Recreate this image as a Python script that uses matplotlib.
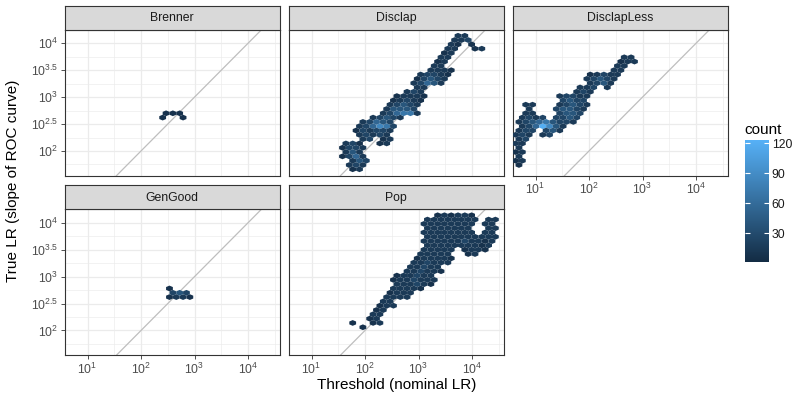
import numpy as np
import matplotlib
matplotlib.use('Agg')
import matplotlib.pyplot as plt
from matplotlib.colors import LinearSegmentedColormap, Normalize
from matplotlib.ticker import FixedLocator, NullFormatter

plt.rcParams['font.family'] = ['Liberation Sans', 'DejaVu Sans']
plt.rcParams['mathtext.fontset'] = 'custom'
plt.rcParams['mathtext.rm'] = 'Liberation Sans'
plt.rcParams['mathtext.it'] = 'Liberation Sans'

# hex lattice in log10 units (width of a cell, height step of two rows, origin)
hex_w = 0.127
hex_h = 0.16
x0, y0 = 0.5, 1.5
nx, ny = 34, 18

# count class per character
count_code = {'1': 3, '2': 8, '3': 15, '4': 25, '5': 40, '6': 55,
              '7': 70, '8': 85, '9': 100, 'A': 120}

# rows of hex cells: (row k, first column j, count codes), '.' = empty
brenner = [(14, 15, "2..2"),
           (15, 15, "222")]

disclap = [(2, 10, "23"), (3, 9, "343"), (4, 10, "354"), (5, 8, "2463"),
           (6, 9, "353"), (7, 8, "2443"), (8, 9, "342..23"), (9, 11, "34.23"),
           (10, 11, "34343"), (11, 10, "243443"), (12, 11, "346874"),
           (13, 11, "34654"), (14, 13, "34543"), (15, 14, "346773"),
           (16, 15, "35554"), (17, 15, "34543"), (18, 16, "23432"),
           (19, 16, "23332"), (20, 18, "343"), (21, 19, "33"),
           (22, 19, "34653"), (23, 19, "24543"), (24, 20, "34432"),
           (25, 21, "3332"), (26, 22, "33"), (27, 22, "23"), (28, 23, "33"),
           (29, 23, "23"), (30, 24, "33..23"), (31, 24, "32.2"),
           (32, 25, "334"), (33, 25, "33")]

disclapless = [(3, 1, "2"), (4, 1, "23"), (5, 1, "3"), (6, 1, "23"),
               (7, 1, "3"), (8, 1, "33"), (9, 1, "34"), (10, 1, "343.34"),
               (11, 1, "344.453"), (12, 2, "346A853"), (13, 1, "345675443"),
               (14, 2, "3434.4454"), (15, 2, "33...4554"),
               (16, 3, "3...45543"), (17, 2, "33...34543"), (18, 8, "4544"),
               (19, 7, "34433"), (20, 10, "343"), (21, 10, "334.3"),
               (22, 12, "3453"), (23, 11, "34543"), (24, 12, "23433"),
               (25, 15, "33"), (26, 16, "33"), (27, 16, "233"), (28, 17, "33")]

gengood = [(14, 16, "2332"),
           (15, 16, "454"),
           (16, 16, "2")]

pop = [(7, 11, "2"), (8, 10, "2..23"), (9, 12, "23"), (10, 13, "33"),
       (11, 13, "23"), (12, 14, "233"), (13, 14, "33"), (14, 15, "3333"),
       (15, 15, "2333"), (16, 16, "33332"), (17, 16, "333432"),
       (18, 16, "2334333"), (19, 16, "233433"), (20, 18, "334332"),
       (21, 18, "33433"), (22, 19, "334333"), (23, 19, "233332"),
       (24, 20, "33333..23"), (25, 20, "33333.2332"), (26, 21, "3333333323"),
       (27, 20, "33333343323"), (28, 21, "33333333333"),
       (29, 20, "33333333.33"), (30, 21, "3333333..33"),
       (31, 20, "33333333.33"), (32, 21, "33333333.33"), (33, 22, "232332")]

facets = ['Brenner', 'Disclap', 'DisclapLess', 'GenGood', 'Pop']
facet_rows = [brenner, disclap, disclapless, gengood, pop]

x_ticks = [1e1, 1e2, 1e3, 1e4]
x_labels = [r'$10^{1}$', r'$10^{2}$', r'$10^{3}$', r'$10^{4}$']
y_ticks = [10 ** 2, 10 ** 2.5, 10 ** 3, 10 ** 3.5, 10 ** 4]
y_labels = [r'$10^{2}$', r'$10^{2.5}$', r'$10^{3}$', r'$10^{3.5}$', r'$10^{4}$']


def cells(rows):
    xs, ys, cs = [], [], []
    for k, j0, codes in rows:
        for n, ch in enumerate(codes):
            if ch == '.':
                continue
            j = j0 + n + 0.5 * (k % 2)
            xs.append(10 ** (x0 + j * hex_w))
            ys.append(10 ** (y0 + k * hex_h / 2))
            cs.append(count_code[ch])
    return xs, ys, cs


cmap = LinearSegmentedColormap.from_list('gg', ['#132B43', '#56B1F7'])
norm = Normalize(vmin=1, vmax=123)

W, H = 797, 396
fig = plt.figure(figsize=(W / 100, H / 100), dpi=100)

lefts = [64.5, 288.5, 512.5]
pw = 215.5
rows_px = [(29.5, 175.7), (209.0, 355.2)]
strip_h = 24

hb = None
for i, (name, rows) in enumerate(zip(facets, facet_rows)):
    r, c = divmod(i, 3)
    top, bot = rows_px[r]
    ax = fig.add_axes([lefts[c] / W, 1 - bot / H, pw / W, (bot - top) / H])
    sax = fig.add_axes([lefts[c] / W, 1 - top / H, pw / W, strip_h / H])
    sax.set_facecolor('#D9D9D9')
    sax.set_xticks([])
    sax.set_yticks([])
    for s in sax.spines.values():
        s.set_color('#333333')
        s.set_linewidth(0.8)
    sax.text(0.5, 0.47, name, ha='center', va='center', fontsize=8.8,
             color='#1A1A1A', transform=sax.transAxes)

    xs, ys, cs = cells(rows)
    hb = ax.hexbin(xs, ys, C=cs, gridsize=(nx, ny),
                   extent=(x0, x0 + nx * hex_w, y0, y0 + ny * hex_h),
                   xscale='log', yscale='log', reduce_C_function=np.sum,
                   mincnt=1, cmap=cmap, norm=norm, linewidths=0,
                   edgecolors='face', zorder=3)
    ax.plot([1, 1e5], [1, 1e5], color='#BEBEBE', lw=0.9, zorder=2)

    ax.set_xlim(10 ** 0.57, 10 ** 4.598)
    ax.set_ylim(10 ** 1.541, 10 ** 4.256)
    ax.set_facecolor('white')
    ax.xaxis.set_major_locator(FixedLocator(x_ticks))
    ax.xaxis.set_minor_locator(FixedLocator([10 ** 1.5, 10 ** 2.5, 10 ** 3.5, 10 ** 4.5]))
    ax.yaxis.set_major_locator(FixedLocator(y_ticks))
    ax.yaxis.set_minor_locator(FixedLocator([10 ** v for v in [1.75, 2.25, 2.75, 3.25, 3.75, 4.25]]))
    ax.xaxis.set_minor_formatter(NullFormatter())
    ax.yaxis.set_minor_formatter(NullFormatter())
    ax.grid(which='major', color='#EBEBEB', lw=0.9, zorder=0)
    ax.grid(which='minor', color='#EBEBEB', lw=0.45, zorder=0)
    ax.set_axisbelow(True)
    for s in ax.spines.values():
        s.set_color('#333333')
        s.set_linewidth(0.8)
    ax.tick_params(which='minor', length=0)
    ax.tick_params(which='major', length=2.75, width=0.6, color='#333333',
                   labelcolor='#4D4D4D', labelsize=8.8, pad=2)

    show_x = (r == 1) or (c == 2)
    show_y = (c == 0)
    if show_x:
        ax.set_xticklabels(x_labels)
    else:
        ax.tick_params(axis='x', which='major', length=0, labelbottom=False)
    if show_y:
        ax.set_yticklabels(y_labels)
    else:
        ax.tick_params(axis='y', which='major', length=0, labelleft=False)

fig.text((64.5 + 728) / 2 / W, 1 - 385 / H, 'Threshold (nominal LR)',
         ha='center', va='center', fontsize=11)
fig.text(13 / W, 1 - 181 / H, 'True LR (slope of ROC curve)',
         ha='center', va='center', rotation=90, fontsize=11)

cax = fig.add_axes([744.5 / W, 1 - 262 / H, 24.5 / W, 122 / H])
cb = fig.colorbar(hb, cax=cax, ticks=[30, 60, 90, 120])
cb.outline.set_visible(False)
cax.tick_params(direction='in', length=3.5, width=0.8, color='white',
                left=True, right=True, labelsize=8.8, labelcolor='#1A1A1A', pad=2)
fig.text(744.5 / W, 1 - 130 / H, 'count', ha='left', va='center', fontsize=11)

fig.savefig('out.png', dpi=100)
